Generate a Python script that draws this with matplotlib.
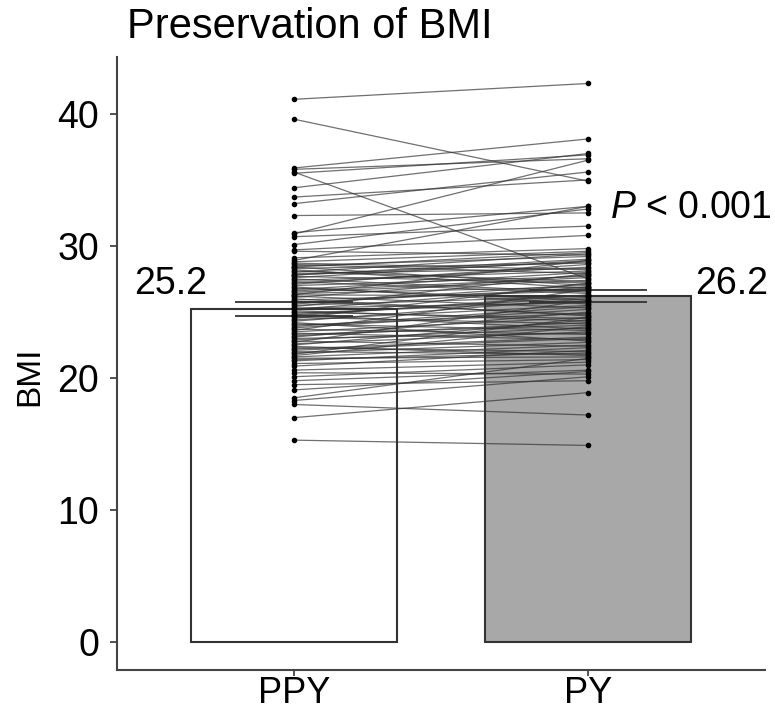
import matplotlib
matplotlib.use("Agg")
import matplotlib.pyplot as plt

# === data ===
groups = ["PPY", "PY"]
bar_means = [25.2, 26.2]
bar_se = [0.53, 0.47]
bar_colors = ["white", "#a8a8a8"]
mean_labels = ["25.2", "26.2"]
p_label = "$\\mathit{P}$ < 0.001"

# paired BMI values (one entry per subject)
bmi_ppy = [41.1, 39.6, 35.9, 35.8, 35.6, 35.5, 34.4, 33.7, 33.2, 32.3, 31.0, 30.9, 30.7, 30.1,
           29.7, 29.6, 29.1, 28.9, 28.8, 28.6, 28.5, 28.3, 28.2, 28.0, 27.9, 27.7, 27.6, 27.4,
           27.3, 27.1, 27.0, 26.8, 26.7, 26.5, 26.4, 26.2, 26.1, 25.9, 25.8, 25.6, 25.5, 25.3,
           25.2, 25.0, 24.9, 24.7, 24.6, 24.4, 24.3, 24.1, 24.0, 23.8, 23.7, 23.5, 23.4, 23.2,
           23.1, 22.9, 22.8, 22.6, 22.5, 22.3, 22.2, 22.0, 21.9, 21.7, 21.5, 21.3, 21.1, 20.9,
           20.6, 20.4, 20.1, 19.8, 19.5, 19.1, 18.5, 18.3, 18.0, 17.0, 15.3,
           28.7, 28.4, 28.1, 27.8, 27.5, 27.2, 26.9, 26.6, 26.3, 26.0, 25.7, 25.4, 25.1, 24.8,
           24.5, 24.2, 23.9, 23.6, 23.3, 23.0, 22.7, 22.4, 22.1, 21.8, 21.6, 21.4, 28.4, 27.8,
           26.3, 24.8]
bmi_py = [42.3, 34.9, 38.1, 36.6, 27.5, 36.9, 37.0, 35.0, 35.6, 32.5, 33.0, 36.5, 31.5, 32.8,
          30.8, 29.3, 29.8, 33.0, 29.6, 27.9, 29.2, 28.7, 26.8, 29.4, 28.3, 27.2, 28.9, 28.1,
          26.4, 28.6, 27.7, 25.9, 28.0, 27.4, 26.9, 25.3, 27.8, 26.6, 24.8, 27.1, 26.2, 25.7,
          26.9, 24.5, 25.8, 26.3, 24.1, 25.5, 26.0, 23.6, 24.9, 25.2, 23.3, 24.6, 22.9, 24.2,
          25.0, 23.8, 22.4, 23.5, 24.4, 22.0, 23.1, 21.8, 22.7, 23.9, 21.6, 22.3, 21.4, 22.1,
          21.2, 20.3, 21.0, 20.6, 19.8, 20.5, 21.5, 20.1, 17.2, 18.9, 14.9,
          28.2, 29.5, 27.3, 28.8, 26.5, 28.4, 25.6, 27.6, 28.9, 24.7, 26.8, 27.9, 24.3, 26.1,
          27.2, 22.8, 25.4, 26.7, 24.0, 23.4, 25.9, 21.7, 23.0, 24.6, 22.5, 21.9, 27.0, 29.0,
          26.2, 23.7]

plt.rcParams["font.family"] = ["Liberation Sans", "DejaVu Sans"]
plt.rcParams["mathtext.fontset"] = "custom"
plt.rcParams["mathtext.rm"] = "Liberation Sans"
plt.rcParams["mathtext.it"] = "Liberation Sans:italic"

fig = plt.figure(figsize=(7.75, 7.13), dpi=100)
ax = fig.add_axes([0.151, 0.0603, 0.836, 0.8597])

x = list(range(len(groups)))

# === bars ===
ax.bar(x, bar_means, width=0.7, color=bar_colors, edgecolor="#333333", linewidth=1.5, zorder=1)

# === error bars ===
for xi, m, s in zip(x, bar_means, bar_se):
    ax.vlines(xi, m - s, m + s, color="#333333", linewidth=1.3, zorder=2)
    ax.hlines([m - s, m + s], xi - 0.2, xi + 0.2, color="#333333", linewidth=1.3, zorder=2)

# === paired lines ===
for a, b in zip(bmi_ppy, bmi_py):
    ax.plot([0, 1], [a, b], color="#333333", linewidth=0.9, alpha=0.7, zorder=3)
ax.plot([0] * len(bmi_ppy), bmi_ppy, "o", color="black", markersize=3, zorder=4)
ax.plot([1] * len(bmi_py), bmi_py, "o", color="black", markersize=3, zorder=4)

# === labels ===
ax.text(-0.417, 26.4, mean_labels[0], fontsize=27, ha="center", va="baseline")
ax.text(1.488, 26.4, mean_labels[1], fontsize=27, ha="center", va="baseline")
ax.text(1.075, 32.1, p_label, fontsize=27, ha="left", va="baseline")

ax.set_xlim(-0.6, 1.6)
ax.set_ylim(-2.1, 44.3)
ax.set_xticks(x)
ax.set_xticklabels(groups)
ax.set_yticks([0, 10, 20, 30, 40])
ax.tick_params(axis="y", labelsize=27, length=5, width=1.3, color="#444444", pad=8)
ax.tick_params(axis="x", labelsize=26, length=4, width=1.3, color="#444444", pad=0)

for side in ["top", "right"]:
    ax.spines[side].set_visible(False)
for side in ["left", "bottom"]:
    ax.spines[side].set_color("#444444")
    ax.spines[side].set_linewidth(1.5)

fig.text(30 / 775, 1 - 376 / 713, "BMI", fontsize=24, rotation=90, ha="center", va="center")
fig.text(127 / 775, 1 - 38 / 713, "Preservation of BMI", fontsize=30, ha="left", va="baseline")

fig.savefig("out.png", dpi=100)
